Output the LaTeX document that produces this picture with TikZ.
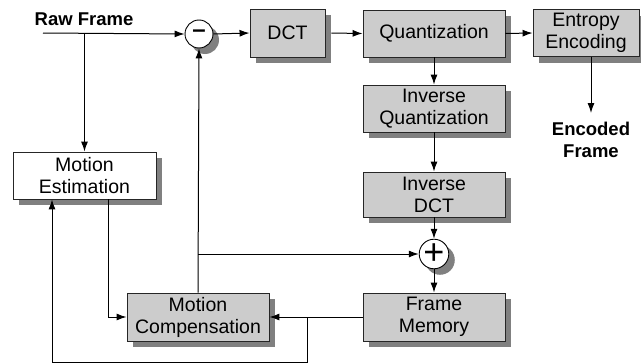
\documentclass[tikz,border=0pt]{standalone}
\usepackage{fontspec}
\setmainfont{Liberation Sans}
\usetikzlibrary{arrows.meta,shadows,calc}
\begin{document}
\begin{tikzpicture}[x=1pt,y=-1pt,
  txt/.style={font=\fontsize{19.5}{22}\selectfont},
  lbl/.style={font=\fontsize{18.5}{22}\selectfont\bfseries, align=center, inner sep=0pt},
  shad/.style={drop shadow={shadow xshift=6pt, shadow yshift=-6pt, fill=black!50, opacity=1}},
  blk/.style={txt, draw=black!85, line width=0.9pt, fill=black!20, minimum height=47pt,
    minimum width=142pt, align=center, inner sep=0pt, shad},
  wblk/.style={blk, fill=white},
  sumc/.style={circle, draw=black, line width=0.9pt, fill=white, minimum size=28pt, inner sep=0pt, shad},
  conn/.style={line width=1pt, -{Latex[length=10pt,width=7pt]}},
  wire/.style={line width=1pt}
]
\useasboundingbox (0,0) rectangle (641,364);

% blocks
\node[blk, minimum width=75pt, minimum height=48pt] (dct) at (287.5,33) {DCT};
\node[blk] (quant) at (434,33.5) {Quantization};
\node[blk, minimum width=106pt] (entropy) at (586,33) {Entropy\\Encoding};
\node[blk] (iq) at (434,108.5) {Inverse\\Quantization};
\node[blk, minimum height=45pt] (idct) at (434,194.5) {Inverse\\DCT};
\node[blk, minimum height=48pt] (fm) at (434,317) {Frame\\Memory};
\node[blk, minimum height=48pt] (mc) at (198,317) {Motion\\Compensation};
\node[wblk, minimum width=143pt] (me) at (84.5,175.5) {Motion\\Estimation};

% summing junctions
\node[sumc] (minus) at (199,34) {\fontsize{24}{24}\selectfont\bfseries –};
\node[sumc] (plus) at (434,254) {\fontsize{36}{36}\selectfont +};

% labels
\node[lbl] (raw) at (84,19) {Raw Frame};
\node[lbl] (enc) at (591,140) {Encoded\\Frame};
\coordinate (rf) at (43,33);
\coordinate (encin) at (591,113);
\coordinate (fb) at (307,317);
\coordinate (bot) at (52,362.5);

% connectors
\draw[conn] (rf) -- (minus.west);
\draw[conn] (me.north |- rf) -- (me.north);
\draw[conn] (minus.east) -- (dct.west);
\draw[conn] ([xshift=6pt]dct.east) -- (quant.west);
\draw[conn] (quant.east) -- (entropy.west);
\draw[conn] (entropy.south -| encin) -- (encin);
\draw[conn] (quant.south) -- (iq.north);
\draw[conn] (iq.south) -- (idct.north);
\draw[conn] (idct.south) -- (plus.north);
\draw[conn] (plus.south) -- (fm.north);
\draw[conn] (fm.west) -- (mc.east);
\draw[conn] ($(me.south)+(23.5,0)$) |- (mc.west);
\draw[conn] (mc.north) -- (minus.south);
\draw[conn] (mc.north |- plus) -- (plus.west);
\draw[conn] (fb) -- (fb |- bot) -- (bot) -- (bot |- me.south);
\end{tikzpicture}
\end{document}
